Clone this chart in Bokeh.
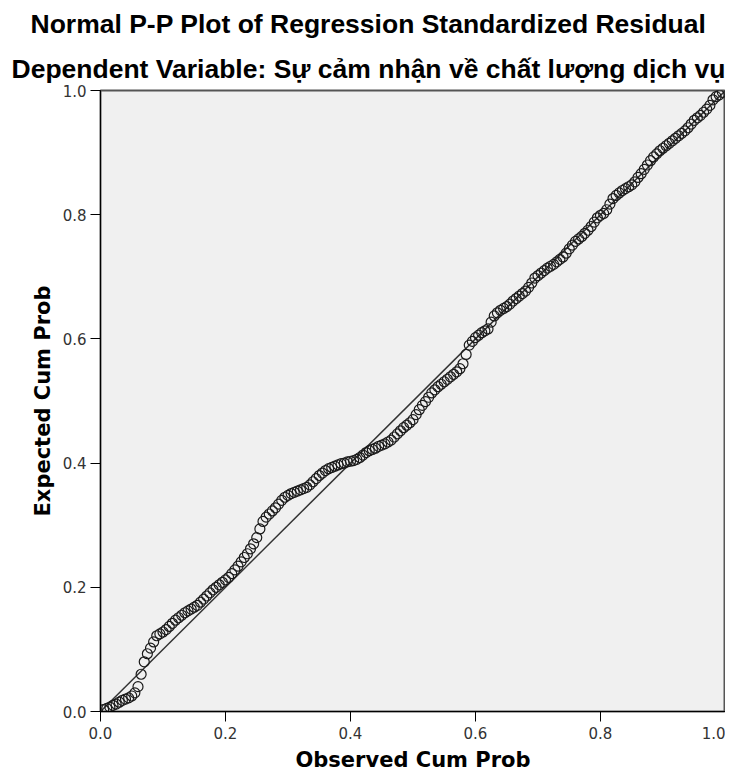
from bokeh.plotting import figure
from bokeh.models import Title, FixedTicker, NumeralTickFormatter, Range1d
from bokeh.embed import file_html
from bokeh.resources import INLINE

observed = [
    0.005, 0.010, 0.015, 0.020, 0.025, 0.030, 0.035, 0.040, 0.045, 0.050,
    0.055, 0.060, 0.065, 0.070, 0.075, 0.080, 0.085, 0.090, 0.095, 0.100,
    0.105, 0.110, 0.115, 0.120, 0.125, 0.130, 0.135, 0.140, 0.145, 0.150,
    0.155, 0.160, 0.165, 0.170, 0.175, 0.180, 0.185, 0.190, 0.195, 0.200,
    0.205, 0.210, 0.215, 0.220, 0.225, 0.230, 0.235, 0.240, 0.245, 0.250,
    0.255, 0.260, 0.265, 0.270, 0.275, 0.280, 0.285, 0.290, 0.295, 0.300,
    0.305, 0.310, 0.315, 0.320, 0.325, 0.330, 0.335, 0.340, 0.345, 0.350,
    0.355, 0.360, 0.365, 0.370, 0.375, 0.380, 0.385, 0.390, 0.395, 0.400,
    0.405, 0.410, 0.415, 0.420, 0.425, 0.430, 0.435, 0.440, 0.445, 0.450,
    0.455, 0.460, 0.465, 0.470, 0.475, 0.480, 0.485, 0.490, 0.495, 0.500,
    0.505, 0.510, 0.515, 0.520, 0.525, 0.530, 0.535, 0.540, 0.545, 0.550,
    0.555, 0.560, 0.565, 0.570, 0.575, 0.580, 0.585, 0.590, 0.595, 0.600,
    0.605, 0.610, 0.615, 0.620, 0.625, 0.630, 0.635, 0.640, 0.645, 0.650,
    0.655, 0.660, 0.665, 0.670, 0.675, 0.680, 0.685, 0.690, 0.695, 0.700,
    0.705, 0.710, 0.715, 0.720, 0.725, 0.730, 0.735, 0.740, 0.745, 0.750,
    0.755, 0.760, 0.765, 0.770, 0.775, 0.780, 0.785, 0.790, 0.795, 0.800,
    0.805, 0.810, 0.815, 0.820, 0.825, 0.830, 0.835, 0.840, 0.845, 0.850,
    0.855, 0.860, 0.865, 0.870, 0.875, 0.880, 0.885, 0.890, 0.895, 0.900,
    0.905, 0.910, 0.915, 0.920, 0.925, 0.930, 0.935, 0.940, 0.945, 0.950,
    0.955, 0.960, 0.965, 0.970, 0.975, 0.980, 0.985, 0.990, 0.995,
]
expected = [
    0.003, 0.005, 0.007, 0.010, 0.012, 0.015, 0.018, 0.020, 0.022, 0.025,
    0.030, 0.040, 0.060, 0.080, 0.093, 0.102, 0.112, 0.122, 0.125, 0.128,
    0.132, 0.137, 0.142, 0.147, 0.151, 0.155, 0.159, 0.162, 0.165, 0.168,
    0.171, 0.176, 0.181, 0.186, 0.191, 0.196, 0.200, 0.204, 0.208, 0.212,
    0.216, 0.222, 0.228, 0.234, 0.241, 0.248, 0.254, 0.262, 0.270, 0.280,
    0.294, 0.306, 0.313, 0.318, 0.323, 0.328, 0.334, 0.340, 0.345, 0.348,
    0.351, 0.353, 0.355, 0.357, 0.359, 0.361, 0.365, 0.370, 0.375, 0.380,
    0.384, 0.388, 0.391, 0.393, 0.395, 0.397, 0.399, 0.400, 0.402, 0.403,
    0.404, 0.406, 0.409, 0.413, 0.417, 0.420, 0.422, 0.424, 0.427, 0.429,
    0.431, 0.434, 0.437, 0.442, 0.447, 0.452, 0.457, 0.461, 0.465, 0.470,
    0.478, 0.486, 0.493, 0.499, 0.506, 0.513, 0.518, 0.523, 0.527, 0.531,
    0.535, 0.539, 0.543, 0.547, 0.552, 0.560, 0.575, 0.590, 0.596, 0.602,
    0.606, 0.610, 0.613, 0.616, 0.627, 0.637, 0.642, 0.646, 0.649, 0.652,
    0.656, 0.661, 0.665, 0.669, 0.673, 0.677, 0.683, 0.690, 0.698, 0.702,
    0.706, 0.710, 0.714, 0.717, 0.720, 0.724, 0.728, 0.732, 0.738, 0.745,
    0.751, 0.757, 0.761, 0.765, 0.770, 0.775, 0.781, 0.788, 0.795, 0.799,
    0.802, 0.808, 0.817, 0.826, 0.831, 0.835, 0.839, 0.842, 0.845, 0.848,
    0.853, 0.860, 0.866, 0.873, 0.880, 0.887, 0.893, 0.898, 0.903, 0.907,
    0.911, 0.915, 0.919, 0.923, 0.927, 0.931, 0.935, 0.940, 0.946, 0.952,
    0.956, 0.960, 0.965, 0.970, 0.976, 0.985, 0.990, 0.993, 0.997,
]
diag_x = [0.0, 1.0]
diag_y = [0.0, 1.0]
ticks = [0.0, 0.2, 0.4, 0.6, 0.8, 1.0]

title_1 = "Normal P-P Plot of Regression Standardized Residual"
title_2 = "Dependent Variable: Sự cảm nhận về chất lượng dịch vụ"

p = figure(width=725, height=774, output_backend="svg", toolbar_location=None,
           x_range=Range1d(0, 1), y_range=Range1d(0, 1),
           min_border_left=100, min_border_right=0, min_border_top=88, min_border_bottom=62,
           x_axis_label="Observed Cum Prob", y_axis_label="Expected Cum Prob")

p.background_fill_color = "#f0f0f0"
p.border_fill_color = "white"
p.outline_line_color = "#555555"
p.outline_line_width = 2
p.xgrid.visible = False
p.ygrid.visible = False

for ax in (p.xaxis[0], p.yaxis[0]):
    ax.ticker = FixedTicker(ticks=ticks)
    ax.formatter = NumeralTickFormatter(format="0.0")
    ax.minor_tick_line_color = None
    ax.major_tick_out = 10
    ax.major_tick_in = 0
    ax.axis_line_color = "black"
    ax.major_tick_line_color = "black"
    ax.major_label_text_font = "DejaVu Sans"
    ax.major_label_text_font_size = "15px"
    ax.major_label_text_color = "#333333"
    ax.axis_label_text_font = "DejaVu Sans"
    ax.axis_label_text_font_style = "bold"
    ax.axis_label_text_font_size = "21px"
    ax.axis_label_text_color = "black"

p.xaxis[0].major_label_standoff = 5
p.xaxis[0].axis_label_standoff = 6
p.yaxis[0].major_label_standoff = 4
p.yaxis[0].axis_label_standoff = 5

p.line(diag_x, diag_y, line_color="#333333", line_width=1.5)
p.scatter(observed, expected, marker="circle", size=10, fill_color=None,
          line_color="#1a1a1a", line_width=1.2)

p.title.text = title_1
p.title.align = "left"
p.title.offset = -70
p.title.text_font = "Liberation Sans"
p.title.text_font_style = "bold"
p.title.text_font_size = "26.5px"
p.title.text_color = "black"
p.title.standoff = 12

t2 = Title(text=title_2, align="left", offset=-89, text_font="Liberation Sans",
           text_font_style="bold", text_font_size="26.5px", text_color="black",
           standoff=14)
p.add_layout(t2, "above")

open("out.html", "w").write(file_html(p, INLINE))
